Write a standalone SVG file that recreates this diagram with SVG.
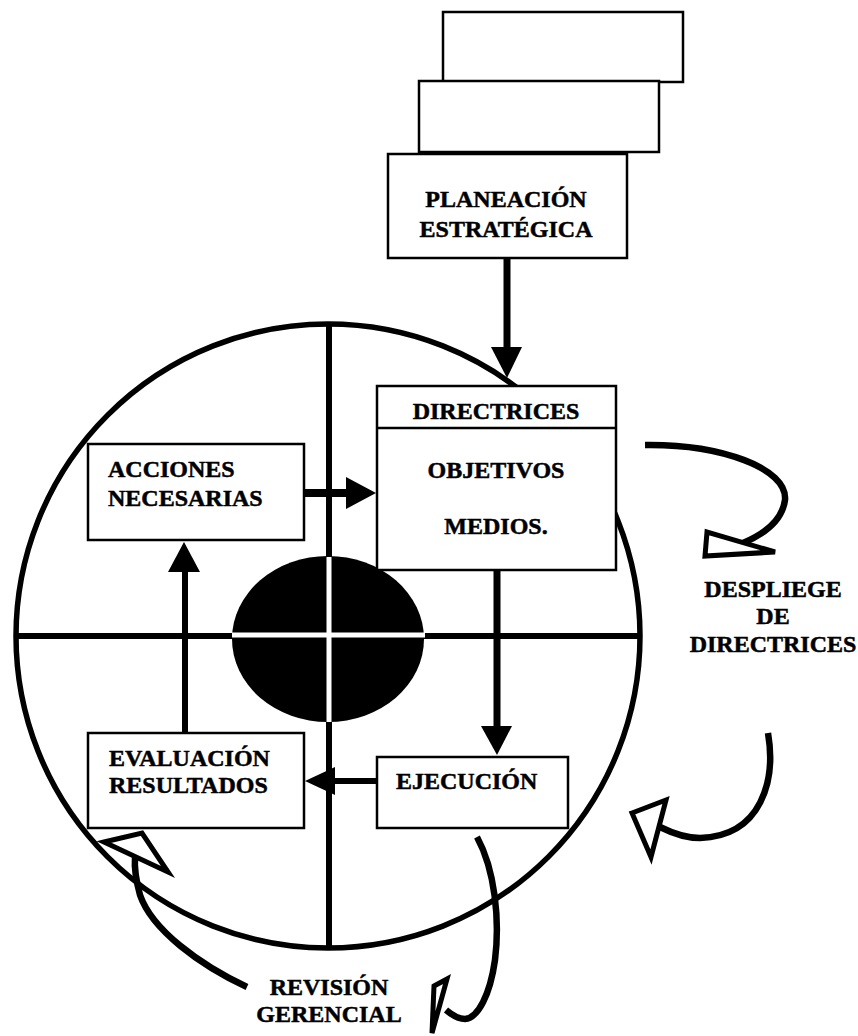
<svg xmlns="http://www.w3.org/2000/svg" width="858" height="1036" viewBox="0 0 858 1036">
  <style>
    .box { fill: #fff; stroke: #000; stroke-width: 2.5; }
    .lbl { font-family: "Liberation Serif", "Times New Roman", serif; font-weight: bold; font-size: 24px; fill: #000; stroke: #000; stroke-width: 0.5; }
    .mid { text-anchor: middle; }
    .shaft { fill: none; stroke: #000; stroke-width: 7; }
    .curve { fill: none; stroke: #000; stroke-width: 6.5; stroke-linecap: butt; }
    .head { fill: #000; }
    .hollow { fill: #fff; stroke: #000; stroke-width: 5; stroke-linejoin: miter; }
  </style>
  <rect width="858" height="1036" fill="#fff"/>

  <!-- target: circle, quadrant cross and central bullseye -->
  <g id="target">
    <circle cx="328" cy="636" r="312" fill="none" stroke="#000" stroke-width="5.5"/>
    <line x1="16" y1="636" x2="640" y2="636" stroke="#000" stroke-width="6"/>
    <line x1="329" y1="324" x2="329" y2="948" stroke="#000" stroke-width="6"/>
    <ellipse cx="328" cy="639" rx="96" ry="83" fill="#000"/>
    <line x1="232" y1="635" x2="425" y2="635" stroke="#fff" stroke-width="5"/>
    <line x1="329" y1="557" x2="329" y2="722" stroke="#fff" stroke-width="5"/>
  </g>

  <!-- stacked planning sheets -->
  <g id="planeacion">
    <rect class="box" x="443" y="12" width="240" height="70"/>
    <rect class="box" x="419" y="81" width="240" height="71"/>
    <rect class="box" x="388" y="154" width="239" height="104"/>
    <text class="lbl mid" x="506" y="207">PLANEACIÓN</text>
    <text class="lbl mid" x="506" y="237">ESTRATÉGICA</text>
  </g>

  <g id="directrices">
    <rect class="box" x="377" y="386" width="239" height="184"/>
    <line x1="377" y1="428" x2="616" y2="428" stroke="#000" stroke-width="2.5"/>
    <text class="lbl mid" x="496" y="419">DIRECTRICES</text>
    <text class="lbl mid" x="496" y="478">OBJETIVOS</text>
    <text class="lbl mid" x="496" y="534">MEDIOS.</text>
  </g>

  <g id="acciones">
    <rect class="box" x="88" y="444" width="216" height="96"/>
    <text class="lbl" x="108" y="477">ACCIONES</text>
    <text class="lbl" x="108" y="506">NECESARIAS</text>
  </g>

  <g id="evaluacion">
    <rect class="box" x="88" y="733" width="216" height="95"/>
    <text class="lbl" x="109" y="766">EVALUACIÓN</text>
    <text class="lbl" x="109" y="793">RESULTADOS</text>
  </g>

  <g id="ejecucion">
    <rect class="box" x="377" y="757" width="191" height="71"/>
    <text class="lbl" x="396" y="789">EJECUCIÓN</text>
  </g>

  <g id="despliegue-label">
    <text class="lbl mid" x="773" y="597">DESPLIEGE</text>
    <text class="lbl mid" x="773" y="624">DE</text>
    <text class="lbl mid" x="773" y="652">DIRECTRICES</text>
  </g>

  <g id="revision-label">
    <text class="lbl mid" x="329" y="995">REVISIÓN</text>
    <text class="lbl mid" x="329" y="1022">GERENCIAL</text>
  </g>

  <g id="connectors">
    <!-- planning to directives -->
    <line class="shaft" x1="507" y1="258" x2="507" y2="349"/>
    <polygon class="head" points="491,347 522,347 507,378"/>
    <!-- directives to execution -->
    <line class="shaft" x1="497" y1="570" x2="497" y2="728"/>
    <polygon class="head" points="481,726 512,726 497,755"/>
    <!-- execution to evaluation -->
    <line x1="377" y1="781" x2="333" y2="781" stroke="#000" stroke-width="6"/>
    <polygon class="head" points="335,767 335,795 305,781"/>
    <!-- evaluation to actions -->
    <line x1="185" y1="732" x2="185" y2="570" stroke="#000" stroke-width="6"/>
    <polygon class="head" points="168,572 200,572 184,542"/>
    <!-- actions to directives -->
    <line x1="304" y1="493" x2="348" y2="493" stroke="#000" stroke-width="8"/>
    <polygon class="head" points="346,477 376,493 346,509"/>

    <!-- deployment loop -->
    <path class="curve" d="M645,445 C720,444 788,468 785,500 C782,522 762,535 743,543"/>
    <polygon class="hollow" points="707,532 705,556 775,552"/>

    <!-- lower right loop -->
    <path class="curve" d="M768,733 C776,780 762,836 700,838 C684,838 672,833 660,827"/>
    <polygon class="hollow" points="632,813 666,800 651,857"/>

    <!-- review loop, left branch -->
    <path class="curve" d="M247,987 C200,965 152,930 140,895 C136,880 134,870 135,858"/>
    <polygon class="hollow" points="104,842 142,833 168,872"/>

    <!-- review loop, right branch -->
    <path class="curve" d="M477,837 C495,870 500,920 495,960 C490,995 478,1018 465,1019 C458,1019 452,1015 446,1010"/>
    <polygon class="hollow" points="434,986 447,979 432,1033"/>
  </g>
</svg>
